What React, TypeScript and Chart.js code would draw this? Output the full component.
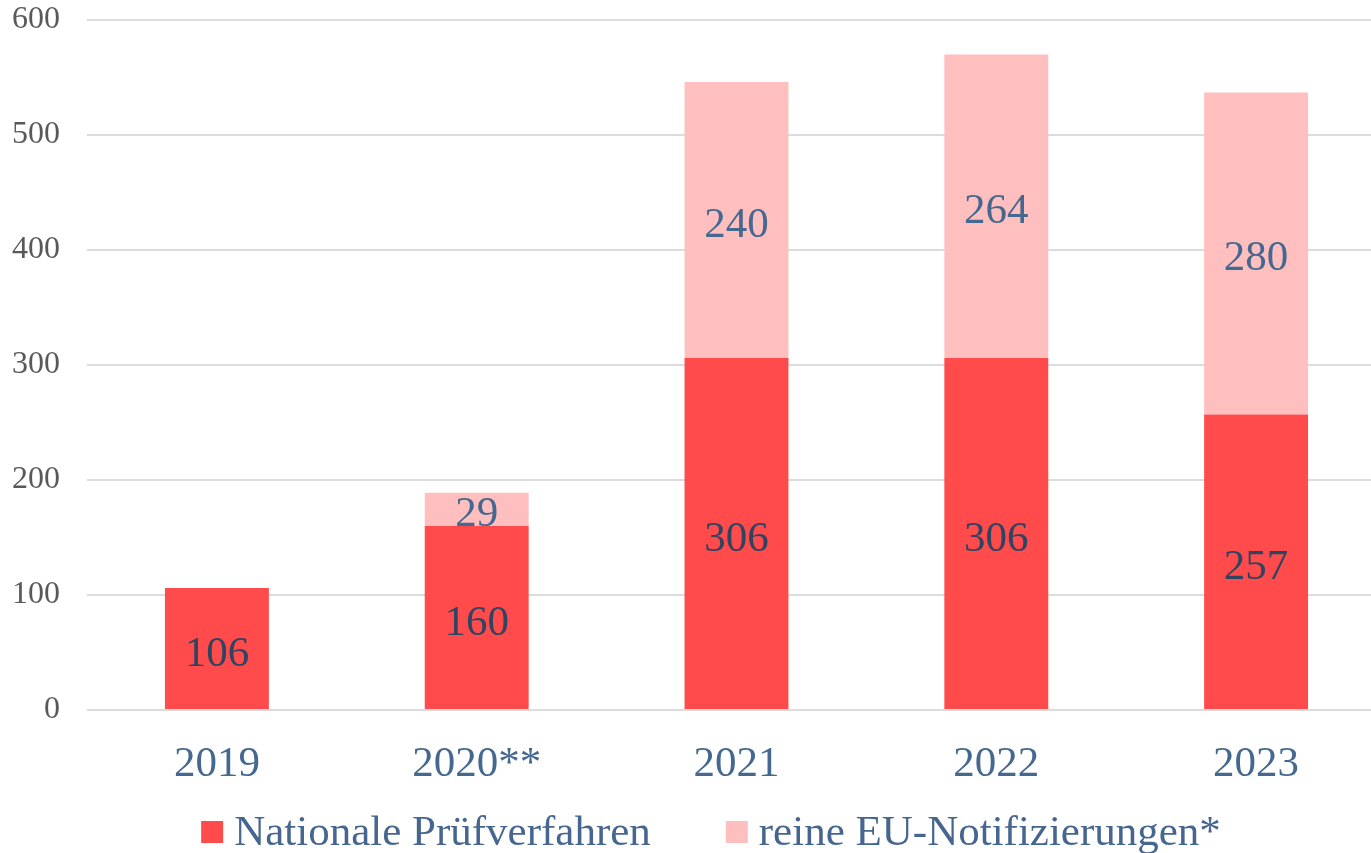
import React, { useEffect, useRef } from "react";
import { Chart, registerables } from "chart.js";

Chart.register(...registerables);

const categories = ["2019", "2020**", "2021", "2022", "2023"];
const nationalValues = [106, 160, 306, 306, 257];
const euValues = [0, 29, 240, 264, 280];
const seriesLabels = ["Nationale Prüfverfahren", "reine EU-Notifizierungen*"];
const seriesColors = ["#FF4B4B", "#FFBFBF"];
const labelColors = ["#2E4460", "#44688F"];
const yMin = 0;
const yMax = 600;
const yStep = 100;

const FONT = '"Liberation Serif", "Times New Roman", serif';
const BIG = 43;

const dataLabelPlugin = {
  id: "segmentLabels",
  afterDatasetsDraw(chart: any) {
    const ctx = chart.ctx;
    ctx.save();
    ctx.font = `${BIG}px ${FONT}`;
    ctx.textAlign = "center";
    ctx.textBaseline = "alphabetic";
    chart.data.datasets.forEach((ds: any, di: number) => {
      const meta = chart.getDatasetMeta(di);
      meta.data.forEach((el: any, i: number) => {
        const v = ds.data[i];
        if (!v) return;
        ctx.fillStyle = labelColors[di];
        ctx.fillText(String(v), el.x, (el.y + el.base) / 2 + 17);
      });
    });
    ctx.restore();
  },
};

const legendPlugin = {
  id: "customLegend",
  afterDraw(chart: any) {
    const ctx = chart.ctx;
    ctx.save();
    ctx.font = `${BIG}px ${FONT}`;
    ctx.textBaseline = "alphabetic";
    ctx.textAlign = "left";
    const box = 22;
    const gap = 11;
    const itemGap = 75;
    const items = chart.data.datasets.map((ds: any) => ({
      text: ds.label,
      color: ds.backgroundColor,
    }));
    const widths = items.map((it: any) => box + gap + ctx.measureText(it.text).width);
    const total = widths.reduce((a: number, b: number) => a + b, 0) + itemGap * (items.length - 1);
    let x = chart.width / 2 + 18 - total / 2;
    const baseline = chart.height - 8;
    items.forEach((it: any, i: number) => {
      ctx.fillStyle = it.color;
      ctx.fillRect(x, baseline - 24, box, box);
      ctx.fillStyle = "#46668F";
      ctx.fillText(it.text, x + box + gap, baseline);
      x += widths[i] + itemGap;
    });
    ctx.restore();
  },
};

export default function App() {
  const ref = useRef<HTMLCanvasElement>(null);
  useEffect(() => {
    if (!ref.current) return;
    const chart = new Chart(ref.current, {
      type: "bar",
      data: {
        labels: categories,
        datasets: [
          {
            label: seriesLabels[0],
            data: nationalValues,
            backgroundColor: seriesColors[0],
            categoryPercentage: 1,
            barPercentage: 0.4,
          },
          {
            label: seriesLabels[1],
            data: euValues,
            backgroundColor: seriesColors[1],
            categoryPercentage: 1,
            barPercentage: 0.4,
          },
        ],
      },
      options: {
        responsive: false,
        animation: false,
        layout: { padding: { top: 20, right: 0, bottom: 73, left: 0 } },
        plugins: {
          legend: { display: false },
          tooltip: { enabled: false },
        },
        scales: {
          x: {
            stacked: true,
            grid: { display: false, drawTicks: false },
            border: { display: false },
            ticks: {
              color: "#44688F",
              font: { family: FONT, size: BIG },
              padding: 29,
            },
            afterFit(scale: any) {
              scale.height = 70;
              scale.paddingTop = 0;
              scale.paddingBottom = 0;
              scale.paddingLeft = 0;
              scale.paddingRight = 0;
            },
          },
          y: {
            stacked: true,
            min: yMin,
            max: yMax,
            grid: { color: "#DCDCDC", lineWidth: 2, drawTicks: false },
            border: { display: false },
            ticks: {
              stepSize: yStep,
              color: "#595959",
              font: { family: FONT, size: 32 },
              padding: 27,
            },
            afterFit(scale: any) {
              scale.width = 87;
              scale.paddingTop = 0;
              scale.paddingBottom = 0;
            },
          },
        },
      },
      plugins: [dataLabelPlugin, legendPlugin],
    });
    return () => chart.destroy();
  }, []);
  return (
    <div
      style={{
        position: "fixed",
        left: 0,
        top: 0,
        width: 1371,
        height: 853,
        overflow: "hidden",
        background: "#fff",
      }}
    >
      <canvas ref={ref} width={1386} height={853} style={{ display: "block" }} />
    </div>
  );
}
